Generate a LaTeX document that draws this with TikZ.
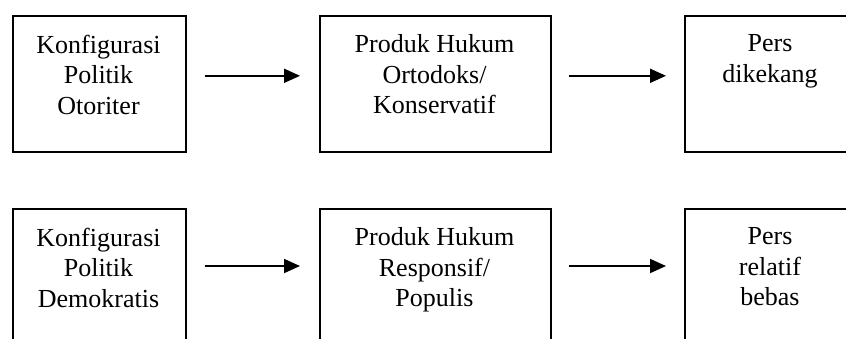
\documentclass[tikz,border=0pt]{standalone}
\usepackage{fontspec}
\setmainfont{Liberation Serif}
\usetikzlibrary{arrows.meta}
\begin{document}
\begin{tikzpicture}[x=1pt,y=-1pt,
  box/.style={draw=black,line width=1.6pt,rectangle,inner sep=0pt,anchor=north west},
  lbl/.style={align=center,inner sep=0pt,anchor=north,font=\fontsize{26}{30.5}\selectfont},
  arr/.style={line width=1.8pt,-{Triangle[length=16pt,width=14pt]}}]
\useasboundingbox (0,0) rectangle (846,338);
\clip (0,0) rectangle (846,338);
% top row
\node[box,minimum width=173pt,minimum height=136pt] (t1) at (12,15) {};
\node[box,minimum width=231pt,minimum height=136pt] (t2) at (319,15) {};
\node[box,minimum width=172pt,minimum height=136pt] (t3) at (684,15) {};
\node[lbl] (tl1) at (98.5,34.5) {Konfigurasi\\Politik\\Otoriter};
\node[lbl] (tl2) at (434.5,34.5) {Produk Hukum\\Ortodoks/\\Konservatif};
\node[lbl] (tl3) at (770,34.5) {Pers\\dikekang};
\draw[arr] ([xshift=18pt,yshift=8pt]t1.east) -- ([xshift=-19pt,yshift=8pt]t2.west);
\draw[arr] ([xshift=17pt,yshift=8pt]t2.east) -- ([xshift=-18pt,yshift=8pt]t3.west);
% bottom row
\node[box,minimum width=173pt,minimum height=150pt] (b1) at (12,208) {};
\node[box,minimum width=231pt,minimum height=150pt] (b2) at (319,208) {};
\node[box,minimum width=172pt,minimum height=150pt] (b3) at (684,208) {};
\node[lbl] (bl1) at (98.5,227.5) {Konfigurasi\\Politik\\Demokratis};
\node[lbl] (bl2) at (434.5,227.5) {Produk Hukum\\Responsif/\\Populis};
\node[lbl] (bl3) at (770,227.5) {Pers\\relatif\\bebas};
\coordinate (b1a) at ([xshift=18pt]b1.east |- 0,266);
\coordinate (b2a) at ([xshift=-19pt]b2.west |- 0,266);
\coordinate (b2b) at ([xshift=17pt]b2.east |- 0,266);
\coordinate (b3a) at ([xshift=-18pt]b3.west |- 0,266);
\draw[arr] (b1a) -- (b2a);
\draw[arr] (b2b) -- (b3a);
\end{tikzpicture}
\end{document}
